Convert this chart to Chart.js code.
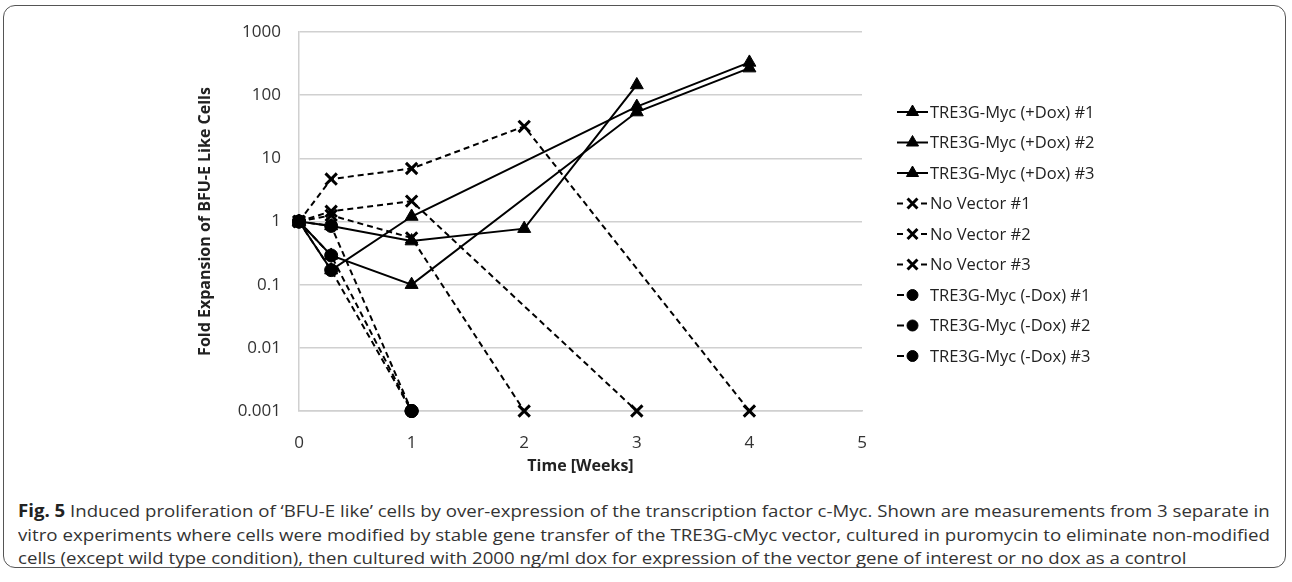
<!DOCTYPE html>
<html>
<head>
<meta charset="utf-8">
<script src="https://cdn.jsdelivr.net/npm/chart.js@4/dist/chart.umd.min.js"></script>
<style>
html,body{margin:0;padding:0;background:#fff;}
body{width:1292px;height:582px;position:relative;overflow:hidden;font-family:"Open Sans",sans-serif;}
#frame{position:absolute;left:3px;top:5px;width:1283px;height:563px;border:1.5px solid #555;border-radius:12px;box-sizing:border-box;}
#wrap{position:absolute;left:0;top:0;width:1292px;height:476px;}
#caption{position:absolute;left:18px;top:499px;font-size:17px;color:#333;line-height:23.5px;}
.ln{white-space:nowrap;transform-origin:0 0;width:max-content;}
.ln b{font-weight:700;color:#222;}
</style>
</head>
<body>
<div id="frame"></div>
<div id="wrap"><canvas id="c" width="1292" height="476"></canvas></div>
<div id="caption">
<div class="ln" id="l1"><b>Fig. 5</b> Induced proliferation of ‘BFU-E like’ cells by over-expression of the transcription factor c-Myc. Shown are measurements from 3 separate in</div>
<div class="ln" id="l2">vitro experiments where cells were modified by stable gene transfer of the TRE3G-cMyc vector, cultured in puromycin to eliminate non-modified</div>
<div class="ln" id="l3">cells (except wild type condition), then cultured with 2000 ng/ml dox for expression of the vector gene of interest or no dox as a control</div>
</div>
<script>
// ---- data ----
const weeks = [0, 0.2857, 1, 2, 3, 4];
const seriesNames = [
  'TRE3G-Myc (+Dox) #1', 'TRE3G-Myc (+Dox) #2', 'TRE3G-Myc (+Dox) #3',
  'No Vector #1', 'No Vector #2', 'No Vector #3',
  'TRE3G-Myc (-Dox) #1', 'TRE3G-Myc (-Dox) #2', 'TRE3G-Myc (-Dox) #3'
];
const dox1   = [1, 0.85, 0.49, 0.77, 145, null];
const dox2   = [1, 0.17, 1.2, null, 66, 330];
const dox3   = [1, 0.29, 0.1, null, 54, 268];
const noVec1 = [1, 4.7, 6.9, 32, null, 0.001];
const noVec2 = [1, 1.45, 2.1, null, 0.001, null];
const noVec3 = [1, 1.25, 0.55, 0.001, null, null];
const noDox1 = [1, 0.85, 0.001, null, null, null];
const noDox2 = [1, 0.29, 0.001, null, null, null];
const noDox3 = [1, 0.17, 0.001, null, null, null];
const xTicks = [0, 1, 2, 3, 4, 5];
const xTickLabels = ['0', '1', '2', '3', '4', '5'];
const yTicks = [0.001, 0.01, 0.1, 1, 10, 100, 1000];
const yTickLabels = ['0.001', '0.01', '0.1', '1', '10', '100', '1000'];
const xTitle = 'Time [Weeks]';
const yTitle = 'Fold Expansion of BFU-E Like Cells';

// ---- styles ----
const TRI = {point:'triangle', r:7.5, bw:1, dash:[], group:'tri'};
const XX  = {point:'crossRot', r:8, bw:3, dash:[6,4], group:'x'};
const CIR = {point:'circle', r:6.5, bw:1, dash:[6,4], group:'cir'};
const allSeries = [
  [dox1, TRI], [dox2, TRI], [dox3, TRI],
  [noVec1, XX], [noVec2, XX], [noVec3, XX],
  [noDox1, CIR], [noDox2, CIR], [noDox3, CIR]
];
const datasets = allSeries.map(([vals, st], i) => ({
  label: seriesNames[i],
  data: weeks.map((x, j) => vals[j] == null ? null : {x: x, y: vals[j]}).filter(p => p),
  borderColor: '#000', backgroundColor: '#000', borderWidth: 2,
  borderDash: st.dash, pointStyle: st.point, pointRadius: st.r,
  pointBorderWidth: st.bw, pointBackgroundColor: '#000', pointBorderColor: '#000',
  pointHoverRadius: st.r, tension: 0, fill: false, clip: false, _grp: st.group
}));

const FONT = '"Open Sans", sans-serif';
const legendTop = 112, legendStep = 30.5;
const legendPlugin = {
  id: 'customLegend',
  afterDraw(chart) {
    const ctx = chart.ctx;
    chart.data.datasets.forEach((ds, i) => {
      const y = legendTop + i * legendStep;
      ctx.save();
      ctx.strokeStyle = '#000'; ctx.fillStyle = '#000'; ctx.lineWidth = 2;
      ctx.beginPath();
      if (ds._grp === 'tri') { ctx.moveTo(897, y); ctx.lineTo(928, y); }
      else if (ds._grp === 'x') { ctx.moveTo(897, y); ctx.lineTo(903, y); ctx.moveTo(921, y); ctx.lineTo(927, y); }
      else { ctx.moveTo(897, y); ctx.lineTo(904, y); }
      ctx.stroke();
      const r = ds._grp === 'tri' ? 7 : (ds._grp === 'x' ? 7 : 5.5);
      ctx.lineWidth = ds.pointBorderWidth;
      Chart.helpers.drawPoint(ctx, {pointStyle: ds.pointStyle, radius: r, borderWidth: ds.pointBorderWidth, rotation: 0}, 912.5, y);
      ctx.fillStyle = '#222';
      ctx.font = '16.5px ' + FONT;
      ctx.textBaseline = 'middle';
      ctx.textAlign = 'left';
      ctx.fillText(ds.label, 930, y + 1);
      ctx.restore();
    });
  }
};

new Chart(document.getElementById('c'), {
  type: 'line',
  data: {datasets: datasets},
  plugins: [legendPlugin],
  options: {
    responsive: false, animation: false,
    layout: {padding: {left: 196, right: 1292 - 862, top: 32, bottom: 0}},
    plugins: {legend: {display: false}, tooltip: {enabled: false}},
    scales: {
      x: {
        type: 'linear', min: 0, max: 5,
        afterBuildTicks: s => { s.ticks = xTicks.map(v => ({value: v})); },
        afterFit: s => { s.height = 65; },
        ticks: {padding: 22, color: '#333', font: {family: FONT, size: 17},
                callback: v => xTickLabels[xTicks.indexOf(v)], maxRotation: 0},
        grid: {display: false, drawTicks: false},
        border: {display: true, color: '#d0d0d0', width: 1.5},
        title: {display: true, text: xTitle, color: '#222', padding: 0,
                font: {family: FONT, size: 16, weight: 'bold'}}
      },
      y: {
        type: 'logarithmic', min: 0.001, max: 1000,
        afterBuildTicks: s => { s.ticks = yTicks.map(v => ({value: v})); },
        afterFit: s => { s.width = 103; },
        ticks: {padding: 18, color: '#333', font: {family: FONT, size: 17},
                callback: v => yTickLabels[yTicks.indexOf(v)]},
        grid: {color: '#d0d0d0', lineWidth: 1.5, drawTicks: false},
        border: {display: true, color: '#d0d0d0', width: 1.5},
        title: {display: true, text: yTitle, color: '#222', padding: 0,
                font: {family: FONT, size: 16, weight: 'bold'}}
      }
    }
  }
});

// fit caption lines (justified lines 1-2)
function fitCaption() {
  const l1 = document.getElementById('l1'), l2 = document.getElementById('l2'), l3 = document.getElementById('l3');
  const target = 1252;
  const s1 = target / l1.offsetWidth;
  const s2 = target / l2.offsetWidth;
  l1.style.transform = 'scaleX(' + s1 + ')';
  l2.style.transform = 'scaleX(' + s2 + ')';
  l3.style.transform = 'scaleX(' + s1 + ')';
}
if (document.fonts && document.fonts.ready) { document.fonts.ready.then(fitCaption); }
fitCaption();
</script>
</body>
</html>
